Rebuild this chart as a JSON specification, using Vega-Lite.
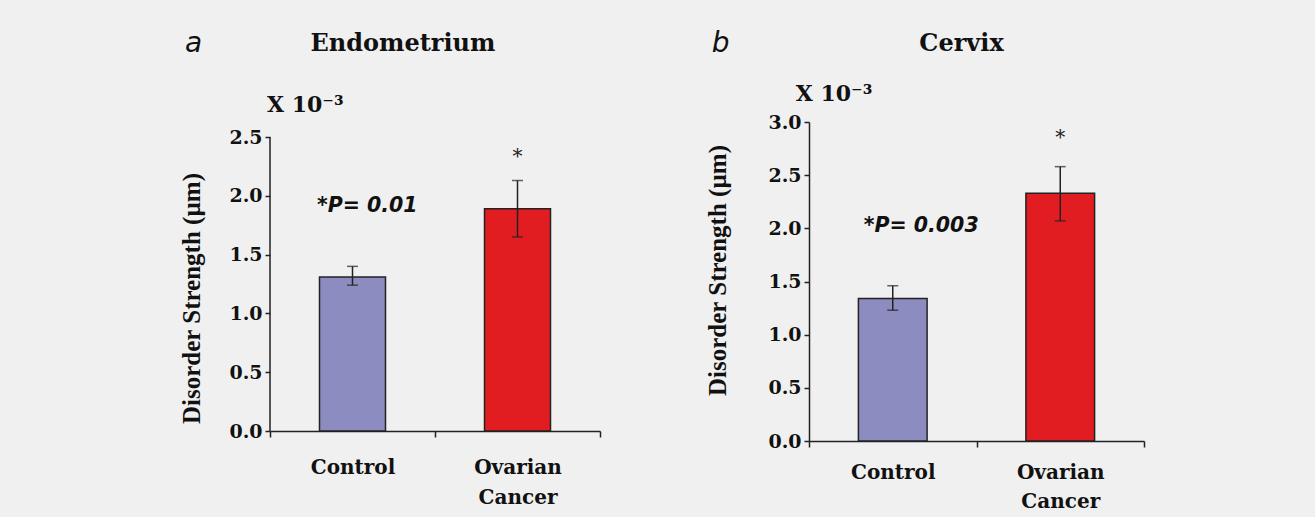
{
  "$schema": "https://vega.github.io/schema/vega-lite/v6.json",
  "background": "#f0f0f0",
  "padding": {"left": 179, "top": 30, "right": 170, "bottom": 6},
  "spacing": 104,
  "config": {
    "view": {"stroke": null},
    "axis": {"domainColor": "#222", "domainWidth": 1.5, "tickColor": "#222", "tickWidth": 1.5, "labelColor": "#111", "titleColor": "#111", "grid": false},
    "title": {"font": "DejaVu Serif", "fontWeight": "bold", "fontSize": 24, "color": "#111", "anchor": "middle"}
  },
  "hconcat": [
    {
      "width": 330,
      "height": 309,
      "title": {"text": "Endometrium", "offset": -26, "dx": -32},
      "data": {"values": [
        {"group": "Control", "mean": 1.31, "lo": 1.24, "hi": 1.40, "star": ""},
        {"group": "Ovarian Cancer", "mean": 1.89, "lo": 1.65, "hi": 2.13, "star": "*"}
      ]},
      "encoding": {
        "x": {"field": "group", "type": "nominal", "sort": null,
          "scale": {"paddingInner": 0, "paddingOuter": 0},
          "axis": {"title": null, "labelAngle": 0, "tickBand": "extent", "labelExpr": "split(datum.label, ' ')",
            "labelFont": "DejaVu Serif", "labelFontWeight": "bold", "labelFontSize": 20, "labelPadding": 20, "labelLineHeight": 30, "tickSize": 6}}
      },
      "layer": [
        {
          "mark": {"type": "bar", "width": {"band": 0.4}, "stroke": "#222", "strokeWidth": 1.5},
          "encoding": {
            "y": {"field": "mean", "type": "quantitative", "scale": {"domain": [0, 2.6276], "nice": false},
              "axis": {"title": "Disorder Strength (µm)", "values": [0, 0.5, 1, 1.5, 2, 2.5], "format": ".1f", "domain": false,
                "tickSize": 5, "labelPadding": 3, "labelFont": "DejaVu Serif", "labelFontWeight": "bold", "labelFontSize": 19,
                "titleFont": "Liberation Serif", "titleFontWeight": "bold", "titleFontSize": 25, "titlePadding": 24, "titleY": 176}},
            "fill": {"field": "group", "type": "nominal", "scale": {"domain": ["Control", "Ovarian Cancer"], "range": ["#8c8cc0", "#e11d22"]}, "legend": null}
          }
        },
        {
          "data": {"values": [{"from": 0, "to": 2.5}]},
          "mark": {"type": "rule", "strokeWidth": 1.5, "color": "#222"},
          "encoding": {"x": {"datum": "Control", "bandPosition": 0}, "y": {"field": "from", "type": "quantitative"}, "y2": {"field": "to"}}
        },
        {
          "mark": {"type": "rule", "strokeWidth": 1.5, "color": "#222"},
          "encoding": {"y": {"field": "lo", "type": "quantitative"}, "y2": {"field": "hi"}}
        },
        {
          "mark": {"type": "tick", "size": 11, "thickness": 1.5, "color": "#222", "orient": "horizontal"},
          "encoding": {"y": {"field": "lo", "type": "quantitative"}}
        },
        {
          "mark": {"type": "tick", "size": 11, "thickness": 1.5, "color": "#222", "orient": "horizontal"},
          "encoding": {"y": {"field": "hi", "type": "quantitative"}}
        },
        {
          "mark": {"type": "text", "dy": -18, "font": "DejaVu Serif", "fontSize": 20, "color": "#222", "baseline": "alphabetic"},
          "encoding": {"y": {"field": "hi", "type": "quantitative"}, "text": {"field": "star"}}
        },
        {
          "data": {"values": [{"t": "a"}]},
          "mark": {"type": "text", "align": "left", "baseline": "alphabetic", "dx": -167.5, "dy": -85, "font": "DejaVu Sans", "fontStyle": "italic", "fontSize": 28, "color": "#111"},
          "encoding": {"x": {"datum": "Control"}, "y": {"datum": 2.5}, "text": {"field": "t"}}
        },
        {
          "data": {"values": [{"t": "X 10⁻³"}]},
          "mark": {"type": "text", "align": "left", "baseline": "alphabetic", "dx": -85.5, "dy": -25, "font": "DejaVu Serif", "fontWeight": "bold", "fontSize": 22, "color": "#111"},
          "encoding": {"x": {"datum": "Control"}, "y": {"datum": 2.5}, "text": {"field": "t"}}
        },
        {
          "data": {"values": [{"t": "*P= 0.01"}]},
          "mark": {"type": "text", "align": "left", "baseline": "alphabetic", "dx": -35.5, "font": "DejaVu Sans", "fontWeight": "bold", "fontStyle": "italic", "fontSize": 20.5, "color": "#111"},
          "encoding": {"x": {"datum": "Control"}, "y": {"datum": 1.86}, "text": {"field": "t"}}
        }
      ]
    },
    {
      "width": 335,
      "height": 319,
      "title": {"text": "Cervix", "offset": -26, "dx": -15},
      "data": {"values": [
        {"group": "Control", "mean": 1.34, "lo": 1.23, "hi": 1.46, "star": ""},
        {"group": "Ovarian Cancer", "mean": 2.33, "lo": 2.07, "hi": 2.58, "star": "*"}
      ]},
      "encoding": {
        "x": {"field": "group", "type": "nominal", "sort": null,
          "scale": {"paddingInner": 0, "paddingOuter": 0},
          "axis": {"title": null, "labelAngle": 0, "tickBand": "extent", "labelExpr": "split(datum.label, ' ')",
            "labelFont": "DejaVu Serif", "labelFontWeight": "bold", "labelFontSize": 20, "labelPadding": 15, "labelLineHeight": 29, "tickSize": 6}}
      },
      "layer": [
        {
          "mark": {"type": "bar", "width": {"band": 0.41}, "stroke": "#222", "strokeWidth": 1.5},
          "encoding": {
            "y": {"field": "mean", "type": "quantitative", "scale": {"domain": [0, 3.0], "nice": false},
              "axis": {"title": "Disorder Strength (µm)", "values": [0, 0.5, 1, 1.5, 2, 2.5, 3], "format": ".1f",
                "tickSize": 5, "labelPadding": 3, "labelFont": "DejaVu Serif", "labelFontWeight": "bold", "labelFontSize": 19,
                "titleFont": "Liberation Serif", "titleFontWeight": "bold", "titleFontSize": 25, "titlePadding": 37, "titleY": 148}},
            "fill": {"field": "group", "type": "nominal", "scale": {"domain": ["Control", "Ovarian Cancer"], "range": ["#8c8cc0", "#e11d22"]}, "legend": null}
          }
        },
        {
          "mark": {"type": "rule", "strokeWidth": 1.5, "color": "#222"},
          "encoding": {"y": {"field": "lo", "type": "quantitative"}, "y2": {"field": "hi"}}
        },
        {
          "mark": {"type": "tick", "size": 11, "thickness": 1.5, "color": "#222", "orient": "horizontal"},
          "encoding": {"y": {"field": "lo", "type": "quantitative"}}
        },
        {
          "mark": {"type": "tick", "size": 11, "thickness": 1.5, "color": "#222", "orient": "horizontal"},
          "encoding": {"y": {"field": "hi", "type": "quantitative"}}
        },
        {
          "mark": {"type": "text", "dy": -23, "font": "DejaVu Serif", "fontSize": 20, "color": "#222", "baseline": "alphabetic"},
          "encoding": {"y": {"field": "hi", "type": "quantitative"}, "text": {"field": "star"}}
        },
        {
          "data": {"values": [{"t": "b"}]},
          "mark": {"type": "text", "align": "left", "baseline": "alphabetic", "dx": -181, "dy": -70, "font": "DejaVu Sans", "fontStyle": "italic", "fontSize": 28, "color": "#111"},
          "encoding": {"x": {"datum": "Control"}, "y": {"datum": 3.0}, "text": {"field": "t"}}
        },
        {
          "data": {"values": [{"t": "X 10⁻³"}]},
          "mark": {"type": "text", "align": "left", "baseline": "alphabetic", "dx": -97, "dy": -21, "font": "DejaVu Serif", "fontWeight": "bold", "fontSize": 22, "color": "#111"},
          "encoding": {"x": {"datum": "Control"}, "y": {"datum": 3.0}, "text": {"field": "t"}}
        },
        {
          "data": {"values": [{"t": "*P= 0.003"}]},
          "mark": {"type": "text", "align": "left", "baseline": "alphabetic", "dx": -29, "font": "DejaVu Sans", "fontWeight": "bold", "fontStyle": "italic", "fontSize": 20.5, "color": "#111"},
          "encoding": {"x": {"datum": "Control"}, "y": {"datum": 1.966}, "text": {"field": "t"}}
        }
      ]
    }
  ]
}
